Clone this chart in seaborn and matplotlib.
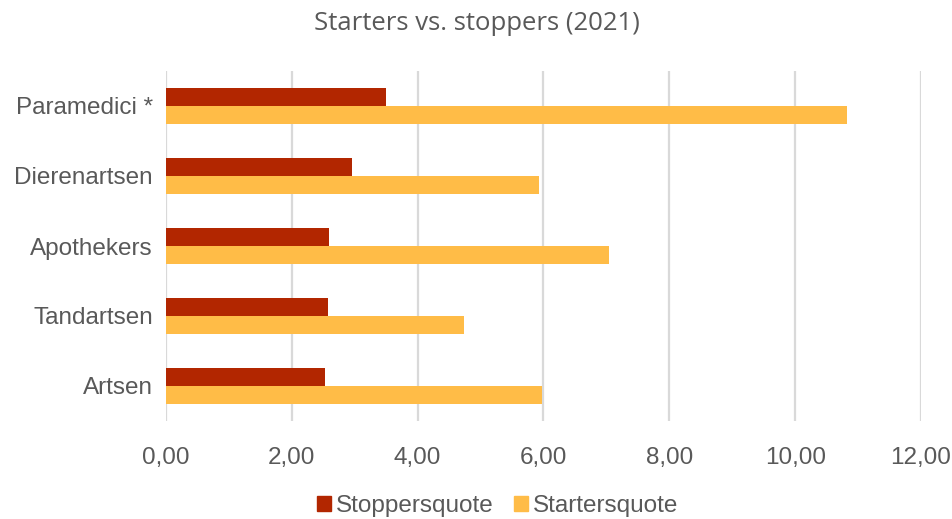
import matplotlib
matplotlib.use("Agg")
import matplotlib.pyplot as plt
import matplotlib.ticker as mticker
import seaborn as sns
import pandas as pd

# Data
categories = ["Paramedici *", "Dierenartsen", "Apothekers", "Tandartsen", "Artsen"]
stoppers = [3.50, 2.96, 2.59, 2.58, 2.52]
starters = [10.83, 5.93, 7.04, 4.73, 5.97]
series = ["Stoppersquote", "Startersquote"]
colors = ["#B22600", "#FFBC47"]

df = pd.DataFrame({
    "beroep": categories * 2,
    "quote": stoppers + starters,
    "reeks": [series[0]] * len(categories) + [series[1]] * len(categories),
})

sns.set_style("white")
plt.rcParams["font.family"] = ["Liberation Sans", "DejaVu Sans"]
text_color = "#595959"

fig = plt.figure(figsize=(9.53, 5.19), dpi=100)
ax = fig.add_axes([166 / 953, 1 - 421 / 519, 755 / 953, 350 / 519])

sns.barplot(data=df, x="quote", y="beroep", hue="reeks", order=categories,
            hue_order=series, palette=colors, orient="h", width=0.52,
            saturation=1, linewidth=0, ax=ax)

ax.set_xlim(0, 12)
ax.xaxis.set_major_locator(mticker.MultipleLocator(2))
ax.xaxis.set_major_formatter(mticker.FuncFormatter(lambda v, p: f"{v:.2f}".replace(".", ",")))
ax.grid(axis="x", color="#d9d9d9", linewidth=1.6)
ax.set_axisbelow(True)
for s in ax.spines.values():
    s.set_visible(False)
ax.tick_params(axis="both", length=0, labelsize=17.5, colors=text_color)
ax.tick_params(axis="x", pad=19)
ax.tick_params(axis="y", pad=9.5)
ax.set_xlabel("")
ax.set_ylabel("")

fig.text(0.5, 1 - 23 / 519, "Starters vs. stoppers (2021)", ha="center", va="center",
         fontsize=18.5, color=text_color, family=["Open Sans", "DejaVu Sans"])

ax.legend_.remove()
handles = [plt.Rectangle((0, 0), 1, 1, color=c) for c in colors]
fig.legend(handles, series, loc="center", bbox_to_anchor=(0.522, 1 - 506 / 519),
           ncol=2, frameon=False, fontsize=17.5, labelcolor=text_color,
           handlelength=0.58, handleheight=0.58, handletextpad=0.2, columnspacing=0.85)

fig.savefig("out.png", dpi=100)
